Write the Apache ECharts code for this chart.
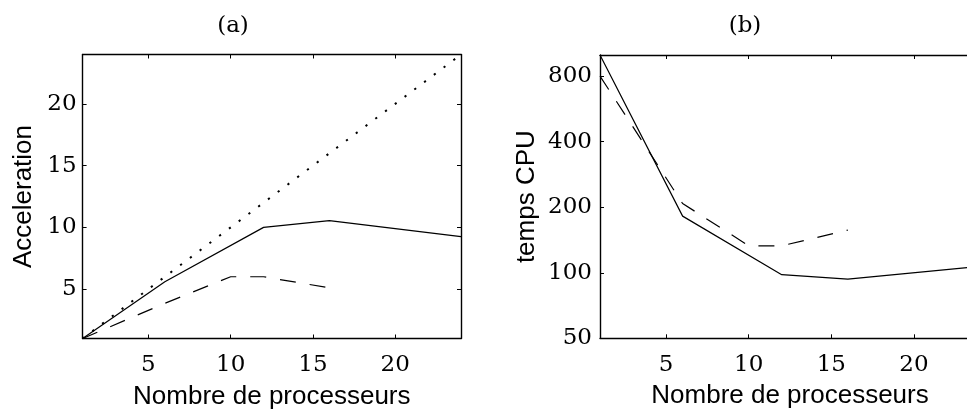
<!DOCTYPE html>
<html>
<head>
<meta charset="utf-8">
<script src="https://cdn.jsdelivr.net/npm/echarts@6/dist/echarts.min.js"></script>
<style>
html,body{margin:0;padding:0;background:#fff;}
#chart{width:967px;height:409px;}
</style>
</head>
<body>
<div id="chart"></div>
<script>
// ---- data ----
const panelTitles = ['(a)', '(b)'];
const xName = 'Nombre de processeurs';
const yNameA = 'Acceleration';
const yNameB = 'temps CPU';

const procIdeal = [1, 24];
const speedupIdeal = [1, 24];

const procSolid = [1, 6, 12, 16, 24];
const speedupSolid = [1, 5.6, 10.0, 10.55, 9.25];
const cpuSolid = [1000, 182, 98, 93.5, 107];

const procDashed = [1, 6, 10, 12, 16];
const speedupDashed = [1, 3.85, 6.0, 6.0, 5.1];
const cpuDashed = [800, 208, 133, 133, 157];

const xTicks = [5, 10, 15, 20];
const yTicksA = [5, 10, 15, 20];
const yTicksB = [50, 100, 200, 400, 800];

const zip = (xs, ys) => xs.map((x, i) => [x, ys[i]]);

// ---- styles ----
const serif = 'DejaVu Serif';
const sans = 'Liberation Sans';
const axisLine = {show: true, lineStyle: {color: '#000', width: 1.4}};
const tickStyle = (vals) => ({show: true, inside: true, length: 4, customValues: vals, lineStyle: {color: '#000', width: 1}});

function xAxes(gridIndex) {
  return [
    {
      type: 'value', gridIndex, position: 'bottom', min: 1, max: 24,
      axisLine, axisTick: tickStyle(xTicks), splitLine: {show: false},
      axisLabel: {customValues: xTicks, margin: 15, color: '#000', fontFamily: serif, fontSize: 23},
      name: xName, nameLocation: 'middle', nameGap: 45,
      nameTextStyle: {color: '#000', fontFamily: sans, fontSize: 26}
    },
    {
      type: 'value', gridIndex, position: 'top', min: 1, max: 24,
      axisLine, axisTick: tickStyle(xTicks), splitLine: {show: false},
      axisLabel: {show: false}
    }
  ];
}

const chart = echarts.init(document.getElementById('chart'), null, {renderer: 'canvas'});

const option = {
  animation: false,
  backgroundColor: '#fff',
  grid: [
    {left: 82.6, top: 54.5, width: 378.4, height: 284, outerBoundsMode: 'none', containLabel: false},
    {left: 600, top: 55, width: 380, height: 283.3, outerBoundsMode: 'none', containLabel: false}
  ],
  xAxis: [...xAxes(0), ...xAxes(1)],
  yAxis: [
    {
      type: 'value', gridIndex: 0, position: 'left', min: 1, max: 24,
      axisLine, axisTick: tickStyle(yTicksA), splitLine: {show: false},
      axisLabel: {customValues: yTicksA, margin: 6, color: '#000', fontFamily: serif, fontSize: 23},
      name: yNameA, nameLocation: 'middle', nameGap: 46, nameRotate: 90,
      nameTextStyle: {color: '#000', fontFamily: sans, fontSize: 26}
    },
    {
      type: 'value', gridIndex: 0, position: 'right', min: 1, max: 24,
      axisLine, axisTick: tickStyle(yTicksA), splitLine: {show: false},
      axisLabel: {show: false}
    },
    {
      type: 'log', logBase: 10, gridIndex: 1, position: 'left', min: 50, max: 1000,
      axisLine, axisTick: tickStyle(yTicksB), minorTick: {show: false}, splitLine: {show: false},
      axisLabel: {customValues: yTicksB, margin: 8, color: '#000', fontFamily: serif, fontSize: 23},
      name: yNameB, nameLocation: 'middle', nameGap: 60, nameRotate: 90,
      nameTextStyle: {color: '#000', fontFamily: sans, fontSize: 26}
    },
    {
      type: 'log', logBase: 10, gridIndex: 1, position: 'right', min: 50, max: 1000,
      axisLine, axisTick: tickStyle(yTicksB), splitLine: {show: false},
      axisLabel: {show: false}
    }
  ],
  graphic: [
    {type: 'text', x: 233, y: 26, style: {text: panelTitles[0], font: '23px "DejaVu Serif"', fill: '#000', align: 'center', verticalAlign: 'middle'}},
    {type: 'text', x: 745, y: 26, style: {text: panelTitles[1], font: '23px "DejaVu Serif"', fill: '#000', align: 'center', verticalAlign: 'middle'}}
  ],
  series: [
    {
      type: 'line', xAxisIndex: 0, yAxisIndex: 0, data: zip(procIdeal, speedupIdeal),
      symbol: 'none', silent: true,
      lineStyle: {color: '#000', width: 2, type: [2.2, 10]}
    },
    {
      type: 'line', xAxisIndex: 0, yAxisIndex: 0, data: zip(procSolid, speedupSolid),
      symbol: 'none', silent: true,
      lineStyle: {color: '#000', width: 1.2, type: 'solid'}
    },
    {
      type: 'line', xAxisIndex: 0, yAxisIndex: 0, data: zip(procDashed, speedupDashed),
      symbol: 'none', silent: true,
      lineStyle: {color: '#000', width: 1.2, type: [16, 14]}
    },
    {
      type: 'line', xAxisIndex: 2, yAxisIndex: 2, data: zip(procSolid, cpuSolid),
      symbol: 'none', silent: true,
      lineStyle: {color: '#000', width: 1.2, type: 'solid'}
    },
    {
      type: 'line', xAxisIndex: 2, yAxisIndex: 2, data: zip(procDashed, cpuDashed),
      symbol: 'none', silent: true,
      lineStyle: {color: '#000', width: 1.2, type: [16, 14]}
    }
  ]
};

chart.setOption(option);
</script>
</body>
</html>
